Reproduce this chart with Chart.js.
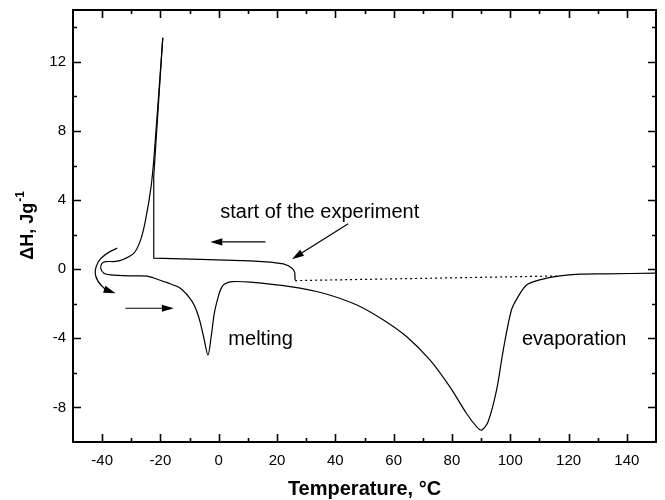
<!DOCTYPE html>
<html>
<head>
<meta charset="utf-8">
<script src="https://cdn.jsdelivr.net/npm/chart.js@4.4.1/dist/chart.umd.min.js"></script>
<style>
  html, body { margin: 0; padding: 0; background: #fff; }
  #chart { display: block; }
</style>
</head>
<body>
<canvas id="chart" width="665" height="500"></canvas>
<script>
// DSC trace: cooling from room temperature, supercooled crystallisation,
// then heating through melting and evaporation

const xTicks = [-40, -20, 0, 20, 40, 60, 80, 100, 120, 140];
const yTicks = [-8, -4, 0, 4, 8, 12];

// cooling run (start at ~26 °C up to the crystallisation spike)
const coolT = [26.2, 26.15, 26.1, 25.7, 25.1, 23.9, 22.2, 17.7, 10.8, -6.3, -22.3, -22.3, -19.2];
const coolH = [-0.62, -0.4, -0.21, -0.05, 0.06, 0.2, 0.31, 0.41, 0.48, 0.57, 0.64, 5.37, 13.39];

// after the spike: turn-around, heating, melting, evaporation
const heatT = [-19.2, -22.1, -23.2, -25.1, -26.8, -29.1, -32.6, -35.4, -38.8, -40.0, -40.5, -39.4, -37.1,
  -30.3, -24.6, -21.1, -17.7, -13.2, -9.1, -6.9, -5.2, -3.7, -2.6, -1.5, 0.0, 0.9, 1.9, 4.6, 10.8,
  24.5, 35.9, 47.4, 56.5, 64.5, 72.5, 79.3, 85.0, 88.5, 90.2, 92.4, 95.3, 97.6, 100.4, 102.7, 105.6,
  110.1, 117.0, 123.8, 133.0, 149.9];
const heatH = [13.39, 6.72, 4.79, 2.86, 1.70, 0.93, 0.58, 0.45, 0.44, 0.35, 0.06, -0.23, -0.33,
  -0.39, -0.40, -0.58, -0.78, -1.10, -1.88, -2.75, -3.91, -4.97, -3.91, -2.53, -1.49, -1.08, -0.87, -0.72, -0.75,
  -1.01, -1.39, -2.07, -2.94, -3.91, -5.26, -6.81, -8.35, -9.12, -9.31, -8.83, -7.00, -4.68, -2.36, -1.59, -0.91,
  -0.62, -0.39, -0.29, -0.27, -0.23];

// dotted baseline under the evaporation peak
const baseT = [26.2, 117.0];
const baseH = [-0.66, -0.39];

// annotations (data coordinates)
const notes = [
  { text: "start of the experiment", t: 0.5, h: 3.26 },
  { text: "melting", t: 3.3, h: -4.04 },
  { text: "evaporation", t: 104.0, h: -4.04 }
];
const straightArrows = [ // [fromT, fromH, toT, toH]
  [16.0, 1.58, -2.9, 1.58],
  [44.4, 2.63, 25.1, 0.58],
  [-32.0, -2.26, -15.4, -2.26]
];
const curvedArrowT = [-34.8, -40.0, -42.8, -41.6, -38.6, -35.4];
const curvedArrowH = [1.22, 0.85, -0.04, -0.75, -1.20, -1.39];

const xMinorStep = 10;
const yMinorStep = 2;

const FONT = '"Liberation Sans", Arial, sans-serif';

function toPoints(xs, ys) {
  return xs.map((v, i) => ({ x: v, y: ys[i] }));
}

function arrowHead(ctx, x1, y1, x2, y2) {
  const ang = Math.atan2(y2 - y1, x2 - x1);
  const L = 12, W = 3.6;
  const bx = x2 - L * Math.cos(ang), by = y2 - L * Math.sin(ang);
  ctx.beginPath();
  ctx.moveTo(x2, y2);
  ctx.lineTo(bx + W * Math.sin(ang), by - W * Math.cos(ang));
  ctx.lineTo(bx - W * Math.sin(ang), by + W * Math.cos(ang));
  ctx.closePath();
  ctx.fill();
  return [bx, by];
}

const framePlugin = {
  id: "frame",
  afterDraw(chart) {
    const { ctx, chartArea: a } = chart;
    const x = chart.scales.x, y = chart.scales.y;
    ctx.save();
    ctx.strokeStyle = "#000";
    ctx.fillStyle = "#000";

    // box
    ctx.lineWidth = 2;
    ctx.strokeRect(a.left, a.top, a.right - a.left, a.bottom - a.top);

    // inward ticks on all four sides
    ctx.lineWidth = 1.6;
    ctx.beginPath();
    for (let v = x.min + xMinorStep; v < x.max; v += xMinorStep) {
      const px = Math.round(x.getPixelForValue(v)) + 0.5;
      const len = xTicks.includes(v) ? 8 : 4;
      ctx.moveTo(px, a.bottom); ctx.lineTo(px, a.bottom - len);
      ctx.moveTo(px, a.top); ctx.lineTo(px, a.top + len);
    }
    for (let v = y.min + yMinorStep; v < y.max; v += yMinorStep) {
      const py = Math.round(y.getPixelForValue(v)) + 0.5;
      const len = yTicks.includes(v) ? 8 : 4;
      ctx.moveTo(a.left, py); ctx.lineTo(a.left + len, py);
      ctx.moveTo(a.right, py); ctx.lineTo(a.right - len, py);
    }
    ctx.stroke();

    // straight arrows
    ctx.lineWidth = 1.2;
    straightArrows.forEach(([t1, h1, t2, h2]) => {
      const x1 = x.getPixelForValue(t1), y1 = y.getPixelForValue(h1);
      const x2 = x.getPixelForValue(t2), y2 = y.getPixelForValue(h2);
      const [bx, by] = arrowHead(ctx, x1, y1, x2, y2);
      ctx.beginPath();
      ctx.moveTo(x1, y1); ctx.lineTo(bx, by);
      ctx.stroke();
    });

    // curved arrow at the turn-around
    const pts = curvedArrowT.map((t, i) => [x.getPixelForValue(t), y.getPixelForValue(curvedArrowH[i])]);
    const n = pts.length;
    const [bx, by] = arrowHead(ctx, pts[n - 2][0], pts[n - 2][1], pts[n - 1][0], pts[n - 1][1]);
    ctx.beginPath();
    ctx.moveTo(pts[0][0], pts[0][1]);
    for (let i = 1; i < n - 2; i++) {
      const mx = (pts[i][0] + pts[i + 1][0]) / 2, my = (pts[i][1] + pts[i + 1][1]) / 2;
      ctx.quadraticCurveTo(pts[i][0], pts[i][1], mx, my);
    }
    ctx.quadraticCurveTo(pts[n - 2][0], pts[n - 2][1], bx, by);
    ctx.stroke();

    // text labels
    ctx.font = "20px " + FONT;
    ctx.textBaseline = "middle";
    ctx.textAlign = "left";
    notes.forEach(nt => ctx.fillText(nt.text, x.getPixelForValue(nt.t), y.getPixelForValue(nt.h)));

    // x axis title
    ctx.font = "bold 20px " + FONT;
    ctx.textAlign = "center";
    ctx.textBaseline = "middle";
    ctx.fillText("Temperature, °C", (a.left + a.right) / 2, 489);

    // y axis title with superscript
    ctx.translate(33, (a.top + a.bottom) / 2);
    ctx.rotate(-Math.PI / 2);
    ctx.textAlign = "left";
    ctx.textBaseline = "alphabetic";
    const main = "ΔH, Jg", sup = "-1";
    ctx.font = "bold 18px " + FONT;
    const wMain = ctx.measureText(main).width;
    ctx.font = "bold 12px " + FONT;
    const wSup = ctx.measureText(sup).width;
    const start = -(wMain + wSup) / 2;
    ctx.font = "bold 18px " + FONT;
    ctx.fillText(main, start, 0);
    ctx.font = "bold 12px " + FONT;
    ctx.fillText(sup, start + wMain + 1, -9);
    ctx.restore();
  }
};

new Chart(document.getElementById("chart"), {
  type: "scatter",
  data: {
    datasets: [
      {
        data: toPoints(coolT, coolH),
        showLine: true,
        borderColor: "#000",
        borderWidth: 1.2,
        pointRadius: 0,
        tension: 0
      },
      {
        data: toPoints(heatT, heatH),
        showLine: true,
        borderColor: "#000",
        borderWidth: 1.2,
        pointRadius: 0,
        tension: 0.3
      },
      {
        data: toPoints(baseT, baseH),
        showLine: true,
        borderColor: "#000",
        borderWidth: 1.2,
        borderDash: [2, 3],
        pointRadius: 0
      }
    ]
  },
  options: {
    responsive: false,
    animation: false,
    layout: { padding: { top: 10, right: 9, left: 0, bottom: 0 } },
    plugins: { legend: { display: false }, tooltip: { enabled: false } },
    scales: {
      x: {
        type: "linear",
        min: -50,
        max: 150,
        afterBuildTicks: s => { s.ticks = xTicks.map(v => ({ value: v })); },
        afterFit: s => { s.height = 58; s.paddingLeft = 0; s.paddingRight = 0; },
        grid: { display: false, drawTicks: false },
        border: { display: false },
        ticks: { color: "#000", padding: 10, maxRotation: 0, font: { family: FONT, size: 15 } }
      },
      y: {
        type: "linear",
        min: -10,
        max: 15,
        afterBuildTicks: s => { s.ticks = yTicks.map(v => ({ value: v })); },
        afterFit: s => { s.width = 73; s.paddingTop = 0; s.paddingBottom = 0; },
        grid: { display: false, drawTicks: false },
        border: { display: false },
        ticks: { color: "#000", padding: 7, font: { family: FONT, size: 15 } }
      }
    }
  },
  plugins: [framePlugin]
});
</script>
</body>
</html>
